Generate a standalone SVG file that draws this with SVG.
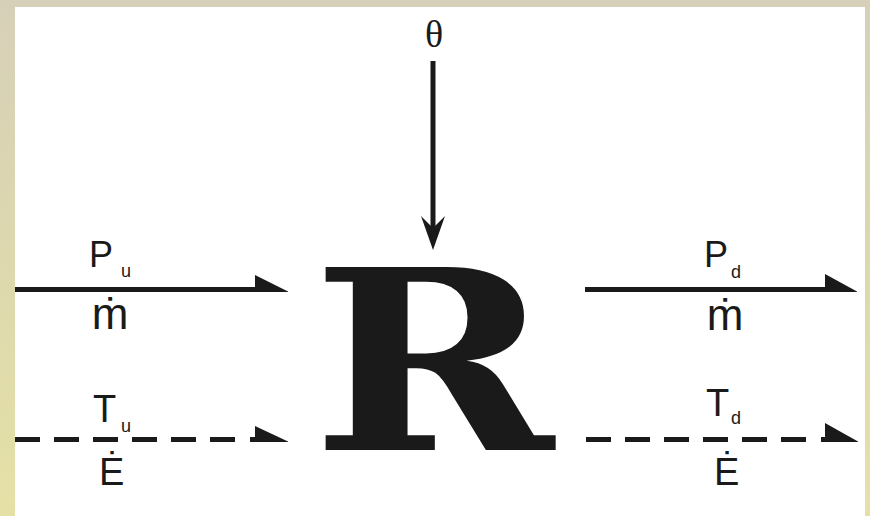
<svg xmlns="http://www.w3.org/2000/svg" width="870" height="516" viewBox="0 0 870 516">
<defs>
<linearGradient id="bg" x1="0" y1="0" x2="0" y2="1">
<stop offset="0" stop-color="#d7d0b9"/>
<stop offset="0.5" stop-color="#ddd8ae"/>
<stop offset="1" stop-color="#e5e1a6"/>
</linearGradient>
<style>
.lbl{font-family:"Liberation Sans",Arial,sans-serif;fill:#1a1a1a}
.sub{font-family:"Liberation Sans",Arial,sans-serif;fill:#1a1a1a;font-size:18px}
.ln{stroke:#1a1a1a;stroke-width:5;fill:none}
.dash{stroke:#1a1a1a;stroke-width:5;fill:none;stroke-dasharray:25 14}
.head{fill:#1a1a1a}
</style>
</defs>
<rect x="0" y="0" width="870" height="516" fill="url(#bg)"/>
<rect x="15" y="7" width="850" height="509" fill="#ffffff"/>

<g id="connectors">
<line class="ln" x1="433" y1="61" x2="433" y2="240"/>
<path class="head" d="M433,250 L421,216 L433,228 L445,216 Z"/>
<line class="ln" x1="15" y1="289.5" x2="258" y2="289.5"/>
<path class="head" d="M255,275 L288,291.5 L288,292 L255,292 Z"/>
<line class="ln" x1="585" y1="289.5" x2="828" y2="289.5"/>
<path class="head" d="M825,274 L857,291.5 L857,292 L825,292 Z"/>
<line class="dash" x1="15" y1="439.5" x2="242" y2="439.5"/>
<line class="ln" x1="250" y1="439.5" x2="258" y2="439.5"/>
<path class="head" d="M255,426 L288,441.5 L288,442 L255,442 Z"/>
<line class="dash" x1="586" y1="439.5" x2="810" y2="439.5"/>
<line class="ln" x1="821" y1="439.5" x2="828" y2="439.5"/>
<path class="head" d="M825,423 L858,441.5 L858,442 L825,442 Z"/>
</g>

<g id="theta">
<text x="434" y="47" font-family="Liberation Serif, serif" font-size="38" text-anchor="middle" fill="#1a1a1a">θ</text>
</g>

<g id="R">
<text x="0" y="0" transform="translate(312,450) scale(1.16,1)" font-family="DejaVu Serif, serif" font-weight="bold" font-size="251" fill="#1a1a1a">R</text>
</g>

<g id="upstream">
<text class="lbl" x="89" y="267" font-size="36">P</text>
<text class="sub" x="121" y="277">u</text>
<text class="lbl" x="110" y="329" font-size="44" text-anchor="middle">ṁ</text>
<text class="lbl" x="93" y="422" font-size="38">T</text>
<text class="sub" x="121" y="432">u</text>
<text class="lbl" x="99" y="485" font-size="38">Ė</text>
</g>

<g id="downstream">
<text class="lbl" x="704" y="267" font-size="36">P</text>
<text class="sub" x="731" y="278">d</text>
<text class="lbl" x="725" y="330" font-size="44" text-anchor="middle">ṁ</text>
<text class="lbl" x="706" y="416" font-size="38">T</text>
<text class="sub" x="731" y="424">d</text>
<text class="lbl" x="714" y="485" font-size="38">Ė</text>
</g>
</svg>
